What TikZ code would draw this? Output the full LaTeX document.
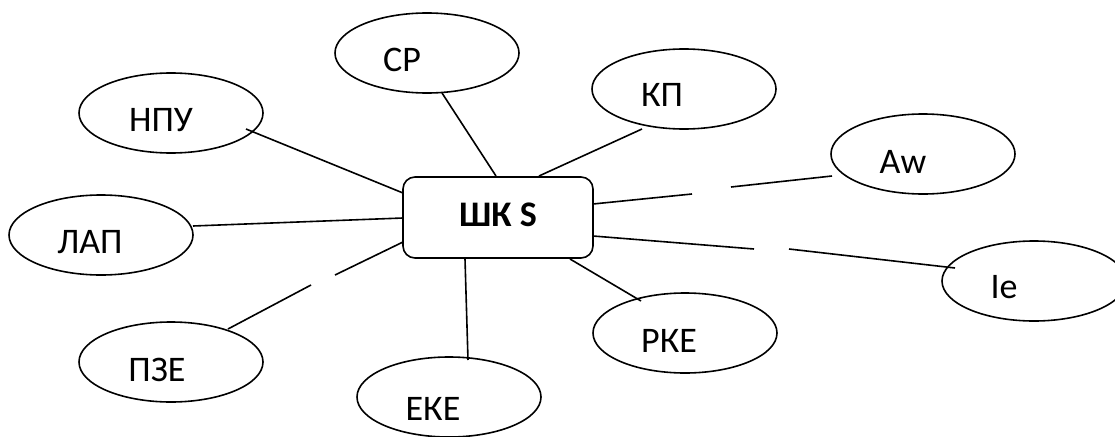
\documentclass[tikz,border=0pt]{standalone}
\usepackage{fontspec}
\setmainfont{Carlito}
\usetikzlibrary{shapes.geometric}
\begin{document}
\begin{tikzpicture}[x=1pt,y=-1pt,line width=1.6pt,
  oval/.style={draw, ellipse, minimum width=184pt, minimum height=80pt, inner sep=0pt},
  lbl/.style={font=\fontsize{36}{40}\selectfont, inner sep=0pt},
  link/.style={line width=1.6pt}]
\useasboundingbox (0,0) rectangle (1115,436);
% centre box
\node[draw, rounded corners=12pt, minimum width=190pt, minimum height=81pt, inner sep=0pt] (box) at (498,217.5) {};
\node[lbl, font=\fontsize{36}{40}\selectfont\bfseries] (boxt) at (498,215) {ШК S};
% ellipses
\node[oval] (cp)  at (427,53)  {};
\node[oval] (npu) at (171,113) {};
\node[oval] (lap) at (101,235) {};
\node[oval] (pze) at (171,362) {};
\node[oval] (eke) at (449,397) {};
\node[oval] (kp)  at (684,89)  {};
\node[oval] (aw)  at (923,154) {};
\node[oval] (ie)  at (1034,281) {};
\node[oval] (rke) at (685,333) {};
% labels
\node[lbl] (cpt)  at (402,60)  {СР};
\node[lbl] (nput) at (161,120) {НПУ};
\node[lbl] (lapt) at (90,242)  {ЛАП};
\node[lbl] (pzet) at (157,370) {ПЗЕ};
\node[lbl] (eket) at (433,409) {ЕКЕ};
\node[lbl] (kpt)  at (662,95)  {КП};
\node[lbl] (awt)  at (903,162) {Aw};
\node[lbl] (iet)  at (1004,287) {Ie};
\node[lbl] (rket) at (669,341) {РКЕ};
% connector end points
\coordinate (cpA) at (442,93);   \coordinate (cpB) at (496,176);
\coordinate (npA) at (246,129);  \coordinate (npB) at (403,193);
\coordinate (laA) at (193,226);  \coordinate (laB) at (403,218);
\coordinate (pzB) at (403,242);  \coordinate (pzG1) at (335,275);
\coordinate (pzG2) at (311,285); \coordinate (pzA) at (228,329);
\coordinate (ekB) at (465,259);  \coordinate (ekA) at (468,360);
\coordinate (kpB) at (539,176);  \coordinate (kpA) at (642,129);
\coordinate (awB) at (593,204);  \coordinate (awG1) at (692,194);
\coordinate (awG2) at (731,187); \coordinate (awA) at (832,176);
\coordinate (ieB) at (593,236);  \coordinate (ieG1) at (754,249);
\coordinate (ieG2) at (789,249); \coordinate (ieA) at (955,268);
\coordinate (rkB) at (570,259);  \coordinate (rkA) at (641,301);
% connectors
\draw[link] (cpA) -- (cpB);
\draw[link] (npA) -- (npB);
\draw[link] (laA) -- (laB);
\draw[link] (pzB) -- (pzG1);
\draw[link] (pzG2) -- (pzA);
\draw[link] (ekB) -- (ekA);
\draw[link] (kpB) -- (kpA);
\draw[link] (awB) -- (awG1);
\draw[link] (awG2) -- (awA);
\draw[link] (ieB) -- (ieG1);
\draw[link] (ieG2) -- (ieA);
\draw[link] (rkB) -- (rkA);
\end{tikzpicture}
\end{document}
